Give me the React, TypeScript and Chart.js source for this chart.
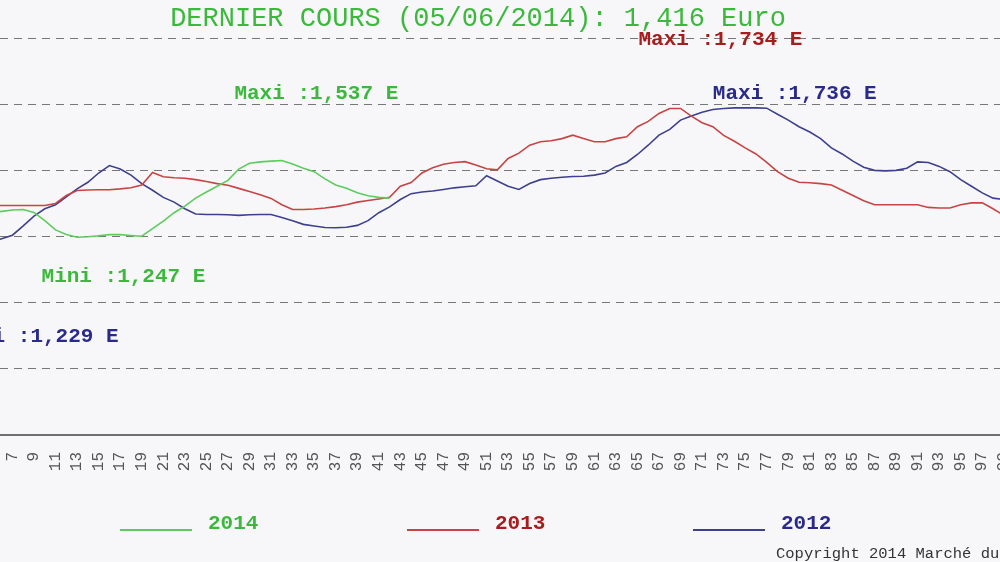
import { useEffect, useRef } from "react";
import { Chart, registerables } from "chart.js";

Chart.register(...registerables);

// weekly prices (Euro/kg), first value is week 5
const startWeek = 5;

const prices2014 = [
    1.34, 1.345, 1.35, 1.352, 1.341, 1.31, 1.275, 1.258, 1.247, 1.249,
    1.253, 1.257, 1.257, 1.254, 1.251, 1.28, 1.308, 1.34, 1.365, 1.395,
    1.418, 1.44, 1.462, 1.505, 1.527, 1.532, 1.535, 1.537, 1.524, 1.508,
    1.495, 1.468, 1.445, 1.432, 1.415, 1.404, 1.398, 1.395
];

const prices2013 = [
    1.367, 1.367, 1.367, 1.367, 1.367, 1.367, 1.375, 1.405, 1.424, 1.426,
    1.427, 1.427, 1.43, 1.434, 1.445, 1.492, 1.476, 1.472, 1.47, 1.465,
    1.458, 1.45, 1.444, 1.432, 1.42, 1.408, 1.394, 1.37, 1.352, 1.352,
    1.354, 1.358, 1.363, 1.37, 1.38, 1.386, 1.392, 1.398, 1.44, 1.454,
    1.49, 1.51, 1.523, 1.53, 1.533, 1.52, 1.506, 1.502, 1.545, 1.565,
    1.595, 1.608, 1.612, 1.62, 1.633, 1.62, 1.608, 1.608, 1.62, 1.627,
    1.665, 1.685, 1.715, 1.734, 1.734, 1.705, 1.68, 1.665, 1.632, 1.61,
    1.585, 1.562, 1.53, 1.495, 1.47, 1.455, 1.453, 1.45, 1.445, 1.425,
    1.405, 1.385, 1.37, 1.37, 1.37, 1.37, 1.37, 1.36, 1.358, 1.358,
    1.37, 1.377, 1.377, 1.355, 1.33, 1.32
];

const prices2012 = [
    1.229, 1.242, 1.255, 1.29, 1.327, 1.355, 1.37, 1.4, 1.43, 1.455,
    1.49, 1.518, 1.505, 1.482, 1.45, 1.425, 1.398, 1.38, 1.355, 1.335,
    1.333, 1.333, 1.332, 1.33, 1.332, 1.333, 1.333, 1.322, 1.31, 1.296,
    1.29, 1.284, 1.283, 1.285, 1.292, 1.31, 1.34, 1.362, 1.39, 1.412,
    1.418, 1.422, 1.428, 1.434, 1.438, 1.442, 1.48, 1.46, 1.44, 1.428,
    1.45, 1.465, 1.47, 1.474, 1.477, 1.478, 1.482, 1.49, 1.515, 1.53,
    1.56, 1.595, 1.633, 1.655, 1.69, 1.705, 1.72, 1.73, 1.734, 1.736,
    1.736, 1.736, 1.735, 1.712, 1.69, 1.665, 1.645, 1.62, 1.585, 1.562,
    1.535, 1.512, 1.5, 1.498, 1.5, 1.508, 1.532, 1.53, 1.515, 1.495,
    1.465, 1.44, 1.415, 1.395, 1.39, 1.385
];

const seriesLabels = ["2014", "2013", "2012"];
const lineColors = ["#5ccc5c", "#c84444", "#3f3f8f"];
const textColors = ["#3cb83c", "#a81c1c", "#2a2a8c"];

const weekTicks = [
    1, 3, 5, 7, 9, 11, 13, 15, 17, 19, 21, 23, 25, 27, 29, 31, 33, 35, 37, 39,
    41, 43, 45, 47, 49, 51, 53, 55, 57, 59, 61, 63, 65, 67, 69, 71, 73, 75, 77,
    79, 81, 83, 85, 87, 89, 91, 93, 95, 97, 99
];
const priceGrid = [0.75, 1, 1.25, 1.5, 1.75, 2];

const titleText = "DERNIER COURS (05/06/2014): 1,416 Euro";
const copyrightText = "Copyright 2014 Marché du Porc Breton";

// Maxi / Mini labels, placed in week / price units
const extremeLabels = [
    { text: "Maxi :1,734 E", week: 65.1, price: 1.992, series: 1 },
    { text: "Maxi :1,537 E", week: 27.6, price: 1.791, series: 0 },
    { text: "Maxi :1,736 E", week: 72.0, price: 1.791, series: 2 },
    { text: "Mini :1,247 E", week: 9.7, price: 1.099, series: 0 },
    { text: "Mini :1,229 E", week: 1.65, price: 0.872, series: 2 },
];

const MONO = "'Liberation Mono', monospace";
const OFFSET_X = 84; // canvas starts 84px left of the visible page
const CANVAS_W = 1124;
const CANVAS_H = 562;
const legendLeft = [120, 407, 693];
const LEGEND_LINE_Y = 530;
const LEGEND_TEXT_Y = 524;

const toPoints = (values: number[]) =>
    values.map((y, i) => ({ x: startWeek + i, y }));

const textPlugin = {
    id: "pageTexts",
    afterDraw(chart: any) {
        const { ctx } = chart;
        const xs = chart.scales.x;
        const ys = chart.scales.y;
        ctx.save();
        ctx.textBaseline = "middle";
        ctx.textAlign = "left";
        ctx.font = `bold 21px ${MONO}`;
        extremeLabels.forEach((l) => {
            ctx.fillStyle = textColors[l.series];
            ctx.fillText(l.text, xs.getPixelForValue(l.week), ys.getPixelForValue(l.price));
        });

        chart.data.datasets.forEach((ds: any, i: number) => {
            const left = legendLeft[i] + OFFSET_X;
            ctx.strokeStyle = ds.borderColor;
            ctx.lineWidth = 2;
            ctx.beginPath();
            ctx.moveTo(left, LEGEND_LINE_Y);
            ctx.lineTo(left + 72, LEGEND_LINE_Y);
            ctx.stroke();
            ctx.fillStyle = textColors[i];
            ctx.fillText(ds.label, left + 88, LEGEND_TEXT_Y);
        });

        ctx.font = `15.5px ${MONO}`;
        ctx.fillStyle = "#333";
        ctx.fillText(copyrightText, 776 + OFFSET_X, 554);
        ctx.restore();
    },
};

export default function App() {
    const canvasRef = useRef<HTMLCanvasElement | null>(null);
    const chartRef = useRef<Chart | null>(null);

    useEffect(() => {
        if (!canvasRef.current) return;

        if (chartRef.current) {
            chartRef.current.destroy();
        }

        const series = [prices2014, prices2013, prices2012];

        chartRef.current = new Chart(canvasRef.current, {
            type: "line",
            data: {
                datasets: series.map((values, i) => ({
                    label: seriesLabels[i],
                    data: toPoints(values),
                    borderColor: lineColors[i],
                    backgroundColor: lineColors[i],
                    borderWidth: 1.6,
                    pointRadius: 0,
                    tension: 0,
                    fill: false,
                })),
            },
            options: {
                animation: false,
                responsive: false,
                events: [],
                layout: { padding: { top: 0, left: 0, right: 0, bottom: 77 } },
                plugins: {
                    legend: { display: false },
                    tooltip: { enabled: false },
                    title: {
                        display: true,
                        text: titleText,
                        color: textColors[0],
                        font: { family: MONO, size: 27, weight: "normal", lineHeight: 1.2 },
                        padding: { top: 3, bottom: 0 },
                    },
                },
                scales: {
                    x: {
                        type: "linear",
                        min: -1.95,
                        max: 101.74,
                        afterBuildTicks: (scale: any) => {
                            scale.ticks = weekTicks.map((v) => ({ value: v }));
                        },
                        afterFit: (scale: any) => {
                            scale.height = 50;
                        },
                        grid: { display: false, drawTicks: false },
                        border: { display: true, color: "#707070", width: 2 },
                        ticks: {
                            autoSkip: false,
                            minRotation: 90,
                            maxRotation: 90,
                            padding: 17,
                            color: "#555",
                            font: { family: MONO, size: 16 },
                        },
                    },
                    y: {
                        min: 0.5,
                        max: 2.01,
                        afterBuildTicks: (scale: any) => {
                            scale.ticks = priceGrid.map((v) => ({ value: v }));
                        },
                        ticks: { display: false },
                        grid: { color: "#777", lineWidth: 1, drawTicks: false },
                        border: { display: false, dash: [8, 6] },
                    },
                },
            },
            plugins: [textPlugin],
        });

        return () => {
            if (chartRef.current) chartRef.current.destroy();
            chartRef.current = null;
        };
    }, []);

    return (
        <div
            style={{
                position: "absolute",
                left: 0,
                top: 0,
                width: 1000,
                height: 562,
                overflow: "hidden",
                background: "#f7f7f9",
            }}
        >
            <canvas
                ref={canvasRef}
                width={CANVAS_W}
                height={CANVAS_H}
                style={{ position: "absolute", left: -OFFSET_X, top: 0 }}
            />
        </div>
    );
}
